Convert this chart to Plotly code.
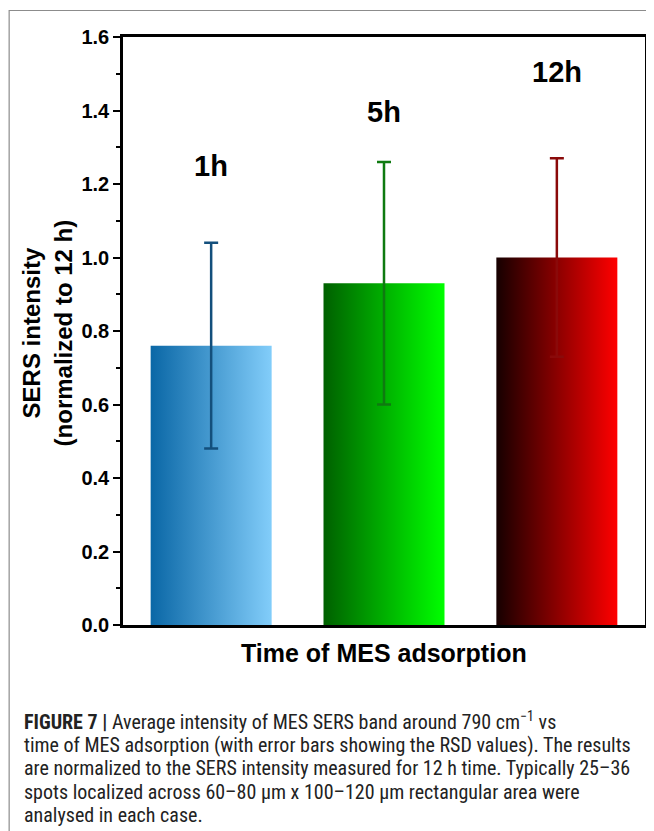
import plotly.graph_objects as go

# ---- data ----
categories = ["1h", "5h", "12h"]
values = [0.76, 0.93, 1.00]
err_plus = [0.28, 0.33, 0.27]
err_minus = [0.28, 0.33, 0.27]
label_y = [1.25, 1.395, 1.505]
grad_left = ["#0a67a6", "#006000", "#160000"]
grad_right = ["#82cdfa", "#00ff00", "#ff0000"]
err_colors = ["#134f7c", "#0f7a10", "#8a0a0a"]
y_ticks = [0.0, 0.2, 0.4, 0.6, 0.8, 1.0, 1.2, 1.4, 1.6]
caption_lines = [
    "<b>FIGURE 7 |</b> Average intensity of MES SERS band around 790 cm<sup>\u22121</sup> vs",
    "time of MES adsorption (with error bars showing the RSD values). The results",
    "are normalized to the SERS intensity measured for 12 h time. Typically 25\u201336",
    "spots localized across 60\u201380 \u00b5m x 100\u2013120 \u00b5m rectangular area were",
    "analysed in each case.",
]

OFF = 8  # page body margin in the browser
W, H = 654 - OFF, 831 - OFF
# plot area in reference pixels
RL, RR, RT, RB = 123, 648, 37, 625
L, R, T, B = RL - OFF, RR - OFF, RT - OFF, RB - OFF
bar_w = 0.70


def px(xref_px):
    return (xref_px - RL) / (RR - RL)


def py(yref_px):
    return (RB - yref_px) / (RB - RT)


fig = go.Figure()

for i, (cat, v) in enumerate(zip(categories, values)):
    x0, x1 = i - bar_w / 2, i + bar_w / 2
    fig.add_trace(go.Scatter(
        x=[x0, x1, x1, x0, x0], y=[0, 0, v, v, 0],
        mode="lines", fill="toself", line=dict(width=0),
        fillgradient=dict(type="horizontal",
                          colorscale=[[0, grad_left[i]], [1, grad_right[i]]]),
        hoverinfo="skip", showlegend=False,
    ))

for i, (cat, v) in enumerate(zip(categories, values)):
    fig.add_trace(go.Scatter(
        x=[i], y=[v], mode="markers", marker=dict(size=2, opacity=0),
        error_y=dict(type="data", symmetric=False, array=[err_plus[i]],
                     arrayminus=[err_minus[i]], color=err_colors[i],
                     thickness=2.5, width=7),
        hoverinfo="skip", showlegend=False,
    ))

font_bold = "Liberation Sans, Arial, sans-serif"

for i, cat in enumerate(categories):
    fig.add_annotation(x=i, y=label_y[i], text="<b>%s</b>" % cat, showarrow=False,
                       xref="x", yref="y", xanchor="center", yanchor="middle",
                       font=dict(family=font_bold, size=29, color="black"))

fig.add_annotation(x=px(47), y=py(333), xref="paper", yref="paper",
                   xanchor="center", yanchor="middle",
                   text="<b>SERS intensity<br>(normalized to 12 h)</b>",
                   textangle=-90, showarrow=False,
                   font=dict(family=font_bold, size=24, color="black"))

fig.add_annotation(x=px(385.5), y=py(653), xref="paper", yref="paper",
                   xanchor="center", yanchor="middle",
                   text="<b>Time of MES adsorption</b>", showarrow=False,
                   font=dict(family=font_bold, size=25, color="black"))

cap_y0, cap_dy = 721, 23.5
for k, line in enumerate(caption_lines):
    fig.add_annotation(x=px(21), y=py(cap_y0 + k * cap_dy), xref="paper", yref="paper",
                       xanchor="left", yanchor="middle", text=line, showarrow=False,
                       font=dict(family="Liberation Sans Narrow, Roboto Condensed, Liberation Sans, sans-serif",
                                 size=20, color="#222"))

fig.add_shape(type="rect", xref="paper", yref="paper",
              x0=px(8.5), x1=px(670), y0=py(850), y1=py(10.5),
              line=dict(color="#8c8c8c", width=1.2), layer="below")

fig.update_xaxes(range=[-0.51, 2.51], showticklabels=False, ticks="",
                 showline=True, mirror=True, linecolor="black", linewidth=2.5,
                 showgrid=False, zeroline=False)
fig.update_yaxes(range=[0, 1.6], tickvals=y_ticks, tickformat=".1f",
                 ticks="outside", ticklen=7, tickwidth=2, tickcolor="black",
                 minor=dict(dtick=0.1, ticks="outside", ticklen=4, tickwidth=2, tickcolor="black"),
                 showline=True, mirror=True, linecolor="black", linewidth=2.5,
                 showgrid=False, zeroline=False,
                 tickfont=dict(family=font_bold, size=20, color="black", weight="bold"))

fig.update_layout(width=W, height=H, margin=dict(l=L, r=W - R, t=T, b=H - B),
                  plot_bgcolor="white", paper_bgcolor="white", showlegend=False)

fig.write_html("out.html")
